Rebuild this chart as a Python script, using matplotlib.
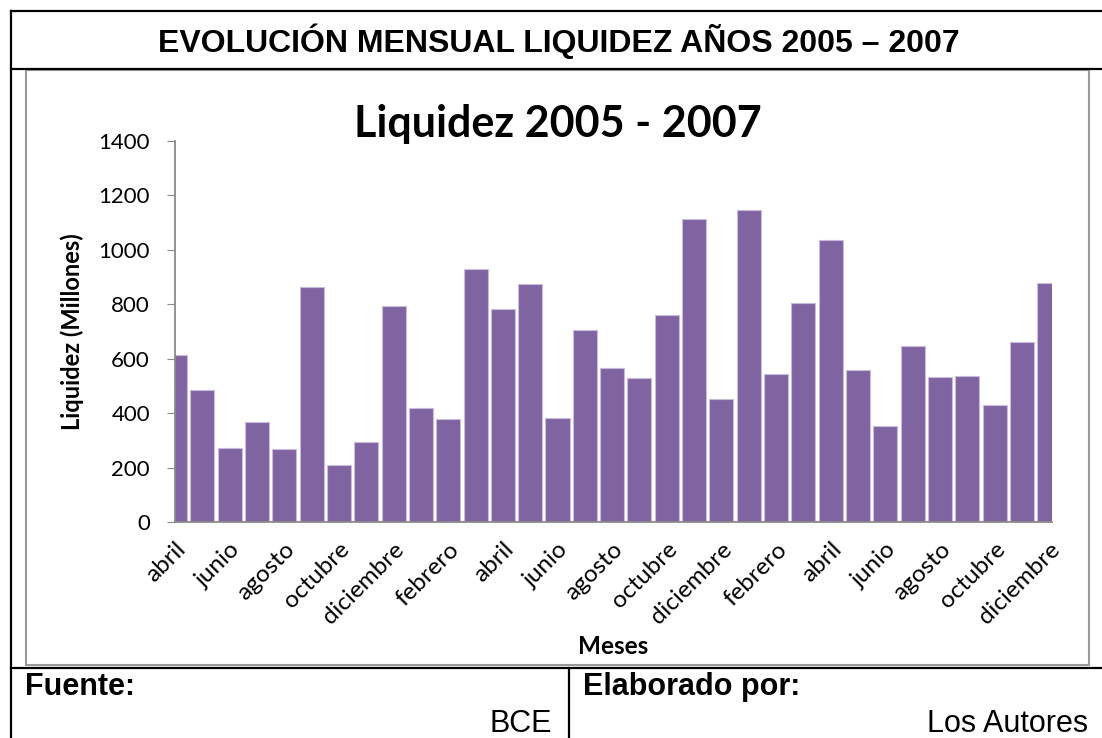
import matplotlib
matplotlib.use("Agg")
import matplotlib.pyplot as plt
from matplotlib.lines import Line2D
from matplotlib.patches import Rectangle

# ---------------------------------------------------------------------------
# data (millones, abril 2005 - diciembre 2007)
# ---------------------------------------------------------------------------
meses = ["abril", "mayo", "junio", "julio", "agosto", "septiembre",
         "octubre", "noviembre", "diciembre",
         "enero", "febrero", "marzo", "abril", "mayo", "junio", "julio",
         "agosto", "septiembre", "octubre", "noviembre", "diciembre",
         "enero", "febrero", "marzo", "abril", "mayo", "junio", "julio",
         "agosto", "septiembre", "octubre", "noviembre", "diciembre"]

liquidez = [614, 486, 272, 369, 270, 865, 209, 293, 792,
            419, 380, 930, 784, 876, 382, 704, 566, 530, 759, 1113, 453,
            1146, 544, 804, 1035, 558, 351, 647, 533, 538, 429, 660, 880]

y_ticks = [0, 200, 400, 600, 800, 1000, 1200, 1400]

titulo_tabla = "EVOLUCIÓN MENSUAL LIQUIDEZ AÑOS 2005 – 2007"
titulo_grafico = "Liquidez 2005 - 2007"

W, H = 1102, 738
fig = plt.figure(figsize=(W / 100, H / 100), dpi=100)

def fx(px):  return px / W
def fy(py):  return 1 - py / H

# ---------------------------------------------------------------------------
# table frame around the chart
# ---------------------------------------------------------------------------
def hline(y, x0, x1, color="black", lw=1.6):
    fig.add_artist(Line2D([fx(x0), fx(x1)], [fy(y), fy(y)], color=color, lw=lw))

def vline(x, y0, y1, color="black", lw=1.6):
    fig.add_artist(Line2D([fx(x), fx(x)], [fy(y0), fy(y1)], color=color, lw=lw))

hline(11, 11, W)
hline(69, 11, W)
hline(668, 11, W)
vline(11, 11, H)
vline(569, 668, H)

# gray chart area border
fig.add_artist(Rectangle((fx(26), fy(665)), fx(1089) - fx(26), fy(70) - fy(665),
                         fill=False, edgecolor="#9a9a9a", lw=1.5))

arial = ["Liberation Sans", "DejaVu Sans"]
calibri = ["Lato", "DejaVu Sans"]

fig.text(fx(559), fy(41), titulo_tabla, family=arial, fontsize=23,
         fontweight="bold", ha="center", va="center")

fig.text(fx(25), fy(687), "Fuente:", family=arial, fontsize=22,
         fontweight="bold", ha="left", va="center")
fig.text(fx(552), fy(724), "BCE", family=arial, fontsize=22,
         ha="right", va="center")
fig.text(fx(583), fy(687), "Elaborado por:", family=arial, fontsize=22,
         fontweight="bold", ha="left", va="center")
fig.text(fx(1088), fy(724), "Los Autores", family=arial, fontsize=22,
         ha="right", va="center")

# ---------------------------------------------------------------------------
# bar chart
# ---------------------------------------------------------------------------
ax = fig.add_axes([fx(175), fy(522), fx(1052) - fx(175), fy(141) - fy(522)])

x = list(range(len(liquidez)))
ax.bar(x, liquidez, width=0.88, color="#8064a2", edgecolor="#c8bbdc", lw=0.8)

ax.set_xlim(0, 32.1)
ax.set_ylim(0, 1400)
ax.set_yticks(y_ticks)
ax.set_yticklabels([str(v) for v in y_ticks], family=calibri, fontsize=16)

ax.set_xticks(x[::2])
ax.set_xticklabels(meses[::2], family=calibri, fontsize=17.5, rotation=45,
                   ha="right", rotation_mode="anchor")

for s in ["top", "right"]:
    ax.spines[s].set_visible(False)
for s in ["left", "bottom"]:
    ax.spines[s].set_color("#8a8a8a")
    ax.spines[s].set_linewidth(1.3)

ax.tick_params(axis="y", length=6, color="#8a8a8a", pad=12)
ax.tick_params(axis="x", length=0, pad=12)

# axis titles placed directly so they sit where the reference has them
fig.text(fx(72), fy(332), "Liquidez (Millones)", family=calibri, fontsize=17,
         fontweight="bold", rotation=90, ha="center", va="center")
fig.text(fx(613), fy(647), "Meses", family=calibri, fontsize=17.5,
         fontweight="bold", ha="center", va="center")

fig.text(fx(558), fy(124), titulo_grafico, family=calibri, fontsize=31,
         fontweight="bold", ha="center", va="center")

fig.savefig("out.png", dpi=100)
